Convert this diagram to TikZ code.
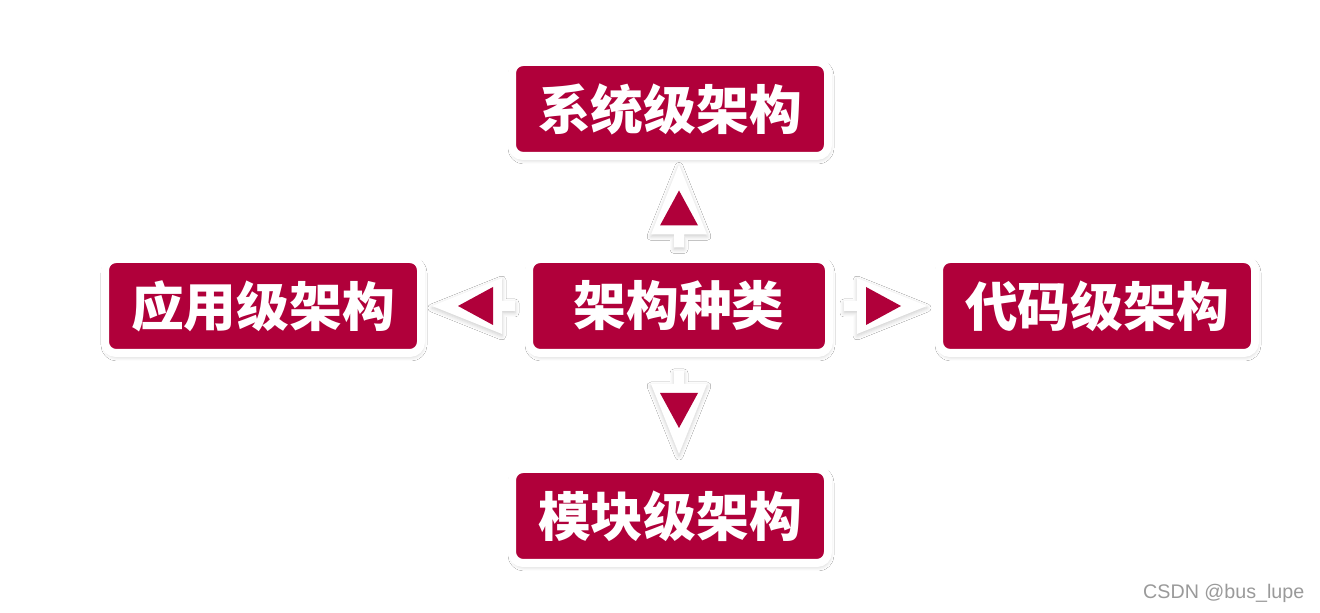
\documentclass[tikz,border=0pt]{standalone}
\usepackage{fontspec}
\newfontfamily\cjk{Noto Sans CJK SC}
\usepackage{tikz}
\usetikzlibrary{calc,positioning,shadows.blur}
\definecolor{KindRed}{HTML}{B0003A}
\definecolor{MarkGray}{HTML}{9A9A9A}

\begin{document}
\begin{tikzpicture}[
    kindbox/.style={
      rounded corners=0.11cm,
      draw=white,
      line width=0.08cm,
      fill=KindRed,
      minimum width=3.16cm,
      minimum height=0.94cm,
      inner sep=0pt,
      text=white,
      font=\cjk\bfseries\fontsize{15}{18}\selectfont,
      blur shadow={shadow blur steps=6, shadow xshift=0.01cm, shadow yshift=-0.03cm,
        shadow blur radius=0.05cm, shadow opacity=25}
    },
    pointer/.pic={
      % stem + white triangle + red triangle, pointing up
      \fill[white, blur shadow={shadow blur steps=5, shadow xshift=0cm, shadow yshift=-0.02cm,
        shadow blur radius=0.04cm, shadow opacity=20}]
        (-0.05,-0.40) -- (-0.05,-0.27) -- (-0.28,-0.27) -- (0,0.43)
        -- (0.28,-0.27) -- (0.05,-0.27) -- (0.05,-0.40) -- cycle;
      \fill[KindRed] (0,0.17) -- (-0.19,-0.18) -- (0.19,-0.18) -- cycle;
    }
  ]
    \useasboundingbox[fill=white] (0,0) rectangle (13.2,6.13);

    \node[kindbox, minimum width=3.0cm] (kind) at (6.79,3.07) {架构种类};
    \node[kindbox, above=0.95cm of kind, xshift=-0.09cm] (sys) {系统级架构};
    \node[kindbox, below=1.08cm of kind, xshift=-0.09cm] (mod) {模块级架构};
    \node[kindbox, left=1.0cm of kind] (app) {应用级架构};
    \node[kindbox, right=1.02cm of kind] (code) {代码级架构};

    \pic at ($(kind.north)!0.5!(kind.north |- sys.south)$) {pointer};
    \pic[rotate=180] at ($(kind.south)!0.5!(kind.south |- mod.north)$) {pointer};
    \pic[rotate=90] at ($(kind.west)!0.5!(app.east)$) {pointer};
    \pic[rotate=-90] at ($(kind.east)!0.5!(code.west)$) {pointer};

    \node[anchor=east, text=MarkGray, inner sep=0pt,
      font=\fontspec{Liberation Sans}\fontsize{5.6}{6}\selectfont] (mark) at (13.05,0.20) {CSDN @bus\_lupe};
  \end{tikzpicture}
\end{document}
